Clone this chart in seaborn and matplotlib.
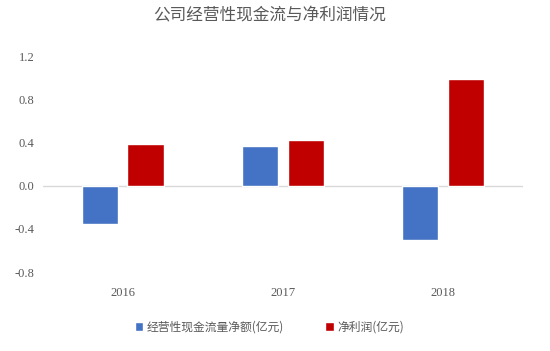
import pandas as pd
import numpy as np
import seaborn as sns
import matplotlib.pyplot as plt

years = ['2016', '2017', '2018']
cash_flow = [-0.35, 0.37, -0.50]
net_profit = [0.39, 0.43, 0.99]
series_names = ['经营性现金流量净额(亿元)', '净利润(亿元)']
yticks = [-0.8, -0.4, 0.0, 0.4, 0.8, 1.2]

df = pd.DataFrame({
    '年份': years * 2,
    '值': cash_flow + net_profit,
    '指标': [series_names[0]] * 3 + [series_names[1]] * 3,
})

sns.set_style('white')
plt.rcParams['font.family'] = ['Noto Sans CJK SC', 'DejaVu Sans']

fig = plt.figure(figsize=(5.5, 3.51), dpi=100)
ax = fig.add_axes([0.078, 0.225, 0.873, 0.613])

bars = sns.barplot(data=df, x='年份', y='值', hue='指标', hue_order=series_names,
                   palette=['#4472C4', '#C00000'], width=0.57, gap=0.2,
                   saturation=1, ax=ax)

ax.set_ylim(-0.8, 1.2)
ax.set_xlim(-0.5, 2.5)
ax.set_yticks(yticks)
ax.set_yticklabels(['%.1f' % v for v in yticks], family='Liberation Serif', fontsize=9, color='#595959')
ax.set_xticks(range(3))
ax.set_xticklabels(years, family='Liberation Serif', fontsize=9, color='#595959')
ax.tick_params(axis='y', length=0, pad=6)
ax.tick_params(axis='x', length=0, pad=11)
ax.axhline(0, color='#d9d9d9', lw=1, zorder=0)
ax.set_xlabel('')
ax.set_ylabel('')
for s in ax.spines.values():
    s.set_visible(False)

ax.get_legend().remove()
h, l = ax.get_legend_handles_labels()
fig.legend(h, l, loc='center', bbox_to_anchor=(0.49, 0.068), ncol=2, frameon=False,
           fontsize=8.5, handlelength=0.7, handleheight=0.7, handletextpad=0.3,
           columnspacing=3.5, labelcolor='#595959')

fig.text(0.49, 0.954, '公司经营性现金流与净利润情况', ha='center', va='center',
         fontsize=12, color='#595959')

fig.savefig('out.png', dpi=100)
